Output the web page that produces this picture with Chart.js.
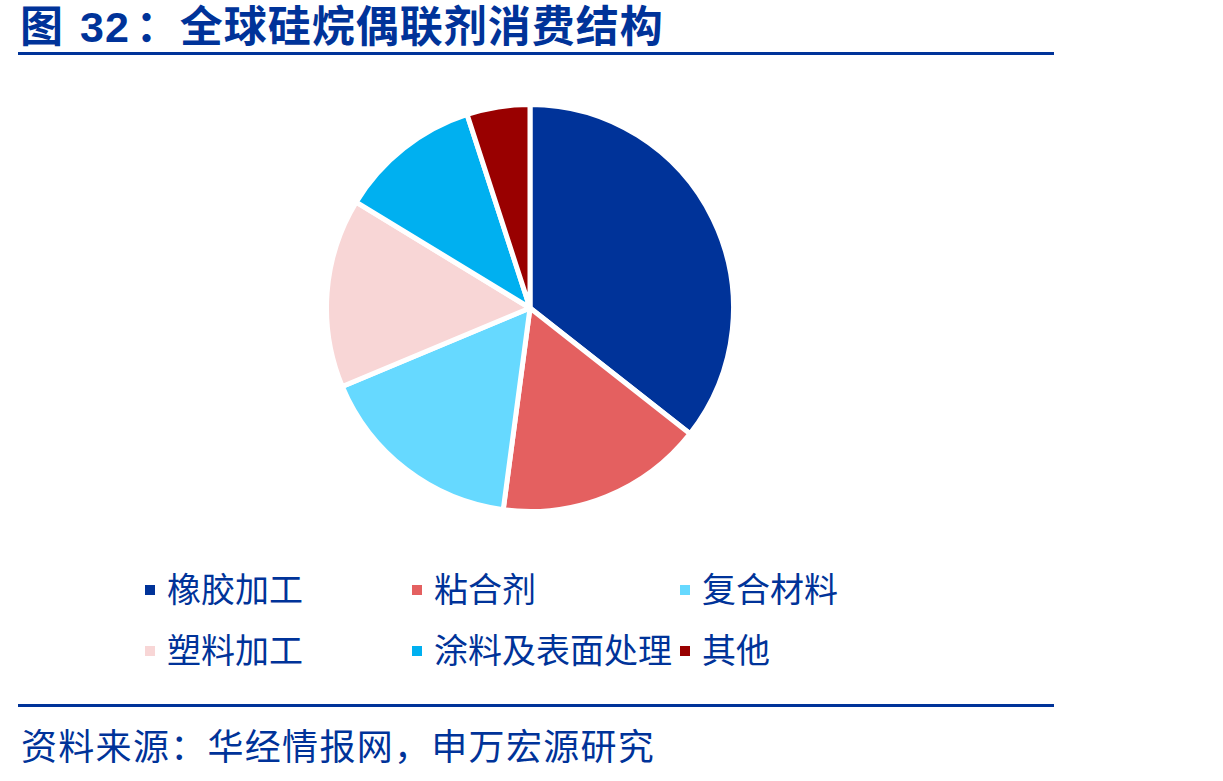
<!DOCTYPE html>
<html><head><meta charset="utf-8">
<script src="https://cdn.jsdelivr.net/npm/chart.js@4/dist/chart.umd.min.js"></script>
<style>
html,body{margin:0;padding:0;background:#fff;width:1223px;height:781px;overflow:hidden;font-family:"Noto Sans CJK SC","Noto Sans",sans-serif;}
#title{position:absolute;left:20px;top:6px;font-family:"Liberation Sans","Noto Sans CJK SC",sans-serif;font-size:43px;line-height:43px;font-weight:bold;color:#003399;white-space:nowrap;letter-spacing:1px;}
.rule{position:absolute;left:18px;width:1036px;height:3px;background:#003399;}
#wrap{position:absolute;left:324px;top:102px;width:412px;height:412px;}
#legend{position:absolute;left:0;top:0;}
.li{position:absolute;font-size:34px;color:#003399;white-space:nowrap;line-height:40px;}
.sw{position:absolute;width:10px;height:10px;}
#src{position:absolute;left:21px;top:724px;font-size:36px;color:#003399;white-space:nowrap;line-height:40px;letter-spacing:1.3px;}
</style></head>
<body>
<div id="title">图<span style="margin-left:16px">32</span><span style="margin-left:6px">：</span>全球硅烷偶联剂消费结构</div>
<div class="rule" style="top:52px"></div>
<div id="wrap"><canvas id="c"></canvas></div>
<div id="legend"></div>
<div class="rule" style="top:704px"></div>
<div id="src">资料来源：华经情报网，申万宏源研究</div>
<script>
const categories = ["橡胶加工","粘合剂","复合材料","塑料加工","涂料及表面处理","其他"];
const shares = [35.6,16.5,16.6,15.0,11.3,5.0];
const colors = ["#003399","#E46060","#66D9FF","#F8D6D6","#00B0F0","#990000"];

new Chart(document.getElementById('c'), {
  type: 'pie',
  data: { labels: categories, datasets: [{ data: shares, backgroundColor: colors, borderColor: '#ffffff', borderWidth: 5 }] },
  options: {
    responsive: true, maintainAspectRatio: false, animation: false,
    layout: { padding: 0 },
    plugins: { legend: { display: false }, tooltip: { enabled: false } }
  }
});

const lg = document.getElementById('legend');
const colX = [145, 412, 680];
const rowY = [590, 651];
categories.forEach((name, i) => {
  const cx = colX[i % 3], cy = rowY[Math.floor(i / 3)];
  const sw = document.createElement('div');
  sw.className = 'sw'; sw.style.background = colors[i];
  sw.style.left = cx + 'px'; sw.style.top = (cy - 5) + 'px';
  lg.appendChild(sw);
  const t = document.createElement('div');
  t.className = 'li'; t.textContent = name;
  t.style.left = (cx + 22) + 'px'; t.style.top = (cy - 22) + 'px';
  lg.appendChild(t);
});
</script>
</body></html>
